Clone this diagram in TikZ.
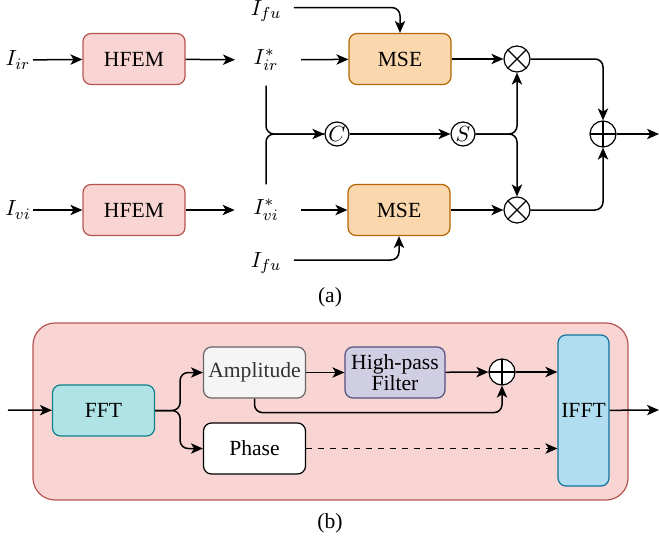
\documentclass[tikz,border=0pt]{standalone}
\usepackage{amsmath}
\usepackage{fontspec}
\setmainfont{Liberation Serif}[Ligatures=TeX]
\usetikzlibrary{arrows.meta}
\definecolor{pinkfill}{HTML}{F8D5D3}
\definecolor{pinkline}{HTML}{B85450}
\definecolor{orangefill}{HTML}{FAD7AC}
\definecolor{orangeline}{HTML}{B46504}
\definecolor{tealfill}{HTML}{B0E3E6}
\definecolor{tealline}{HTML}{0E8088}
\definecolor{greyfill}{HTML}{F5F5F5}
\definecolor{greyline}{HTML}{666666}
\definecolor{purplefill}{HTML}{D0CEE2}
\definecolor{purpleline}{HTML}{56517E}
\definecolor{bluefill}{HTML}{B1DDF0}
\definecolor{blueline}{HTML}{10739E}

\begin{document}
\begin{tikzpicture}[>={Stealth[length=6pt, width=5.2pt, inset=1.6pt]}, x=0.5pt, y=-0.5pt, line width=0.75pt,
  font=\rmfamily\fontsize{10.8}{12.5}\selectfont,
  blk/.style={draw, rounded corners=4pt, minimum width=51pt, minimum height=25.5pt, inner sep=1pt, line width=0.6pt},
  lbl/.style={inner sep=1pt},
  op/.style={circle, draw, minimum size=13pt, inner sep=0pt, line width=0.6pt},
  mul/.style={op, path picture={\draw[line width=0.6pt] (path picture bounding box.north west) -- (path picture bounding box.south east)
      (path picture bounding box.north east) -- (path picture bounding box.south west);}},
  add/.style={op, path picture={\draw[line width=0.6pt] (path picture bounding box.north) -- (path picture bounding box.south)
      (path picture bounding box.west) -- (path picture bounding box.east);}},
  sym/.style={circle, draw, minimum size=12pt, inner sep=0pt, line width=0.6pt}]
  \useasboundingbox (0,0) rectangle (659,546);
  % ---------------------------------------------------------------- (a) two branches, MSE weights, fusion
  \begin{scope}
    \node[lbl] (iir) at (18,60) {$I_{ir}$};
    \node[lbl] (ivi) at (18,210) {$I_{vi}$};
    \node[blk, fill=pinkfill, draw=pinkline] (hf1) at (134,59) {HFEM};
    \node[blk, fill=pinkfill, draw=pinkline] (hf2) at (134,210) {HFEM};
    \node[lbl] (irs) at (266,60) {$I_{ir}^{*}$};
    \node[lbl] (vis) at (266,210) {$I_{vi}^{*}$};
    \node[lbl] (fu1) at (266,11) {$I_{fu}$};
    \node[lbl] (fu2) at (266,263) {$I_{fu}$};
    \node[blk, fill=orangefill, draw=orangeline] (ms1) at (400,59) {MSE};
    \node[blk, fill=orangefill, draw=orangeline] (ms2) at (399,210) {MSE};
    \node[sym] (c) at (337,134) {$C$};
    \node[sym] (s) at (463,134) {$S$};
    \node[mul] (x1) at (517,59) {};
    \node[mul] (x2) at (517,210) {};
    \node[add] (a1) at (603,134) {};
    \coordinate (out1) at (659,134);
    % inputs through HFEM
    \draw[->] (iir) -- (hf1);
    \draw[->] (ivi) -- (hf2);
    \draw[->, shorten >=8pt] (hf1) -- (irs);
    \draw[->, shorten >=8pt] (hf2) -- (vis);
    \draw[->, shorten <=10pt] (irs) -- (ms1);
    \draw[->, shorten <=10pt] (vis) -- (ms2);
    % fused image into MSE
    \draw[->, rounded corners=4pt, shorten <=5pt] ([yshift=1.7pt]fu1.east) -| (ms1.north);
    \draw[->, rounded corners=4pt, shorten <=5pt] ([yshift=1.5pt]fu2.east) -| (ms2.south);
    % concatenation and softmax
    \draw[rounded corners=4pt] ([yshift=-6pt]irs.south) |- (c.west);
    \draw[->, rounded corners=4pt] ([yshift=6pt]vis.north) |- (c.west);
    \draw[->] (c) -- (s);
    \draw[->, rounded corners=4pt] (s) -| (x1.south);
    \draw[->, rounded corners=4pt] (s) -| (x2.north);
    \draw[->] (ms1) -- (x1);
    \draw[->] (ms2) -- (x2);
    \draw[->, rounded corners=4pt] (x1) -| (a1.north);
    \draw[->, rounded corners=4pt] (x2) -| (a1.south);
    \draw[->] (a1) -- (out1);
    \node (capa) at (330,297) {(a)};
  \end{scope}
  % ---------------------------------------------------------------- (b) the HFEM block
  \begin{scope}
    \node[draw=pinkline, fill=pinkfill, rounded corners=11pt, line width=0.6pt,
      minimum width=297.5pt, minimum height=88.5pt] (hfem) at (330.5,411.5) {};
    \coordinate (inb) at (8,410);
    \coordinate (outb) at (659,410);
    \node[blk, fill=tealfill, draw=tealline] (fft) at (103.5,410.5) {FFT};
    \node[blk, fill=greyfill, draw=greyline, text=black!80] (amp) at (254.5,372.5) {Amplitude};
    \node[blk, fill=white, draw=black] (phs) at (254.5,448.5) {Phase};
    \node[blk, fill=purplefill, draw=purpleline, minimum width=50pt, align=center] (hpf) at (395,372.5)
      {High-pass\\[-2pt]Filter};
    \node[add, fill=white] (a2) at (502,372) {};
    \node[blk, fill=bluefill, draw=blueline, minimum width=25.5pt, minimum height=75.5pt] (ifft) at (583.5,410.5) {IFFT};
    \draw[->] (inb) -- (fft);
    \draw[->, rounded corners=4pt] (fft.east) -- ++(25,0) |- (amp.west);
    \draw[->, rounded corners=4pt] (fft.east) -- ++(25,0) |- (phs.west);
    \draw[->] (amp) -- (hpf);
    \draw[->] (hpf) -- (a2);
    \draw[->, rounded corners=4pt] (amp.south) -- ++(0,14) -| (a2.south);
    \draw[->] (a2) -- (a2 -| ifft.west);
    \draw[->, dashed] (phs) -- (phs -| ifft.west);
    \draw[->] (ifft) -- (outb);
    \node (capb) at (330,523) {(b)};
  \end{scope}
\end{tikzpicture}
\end{document}
